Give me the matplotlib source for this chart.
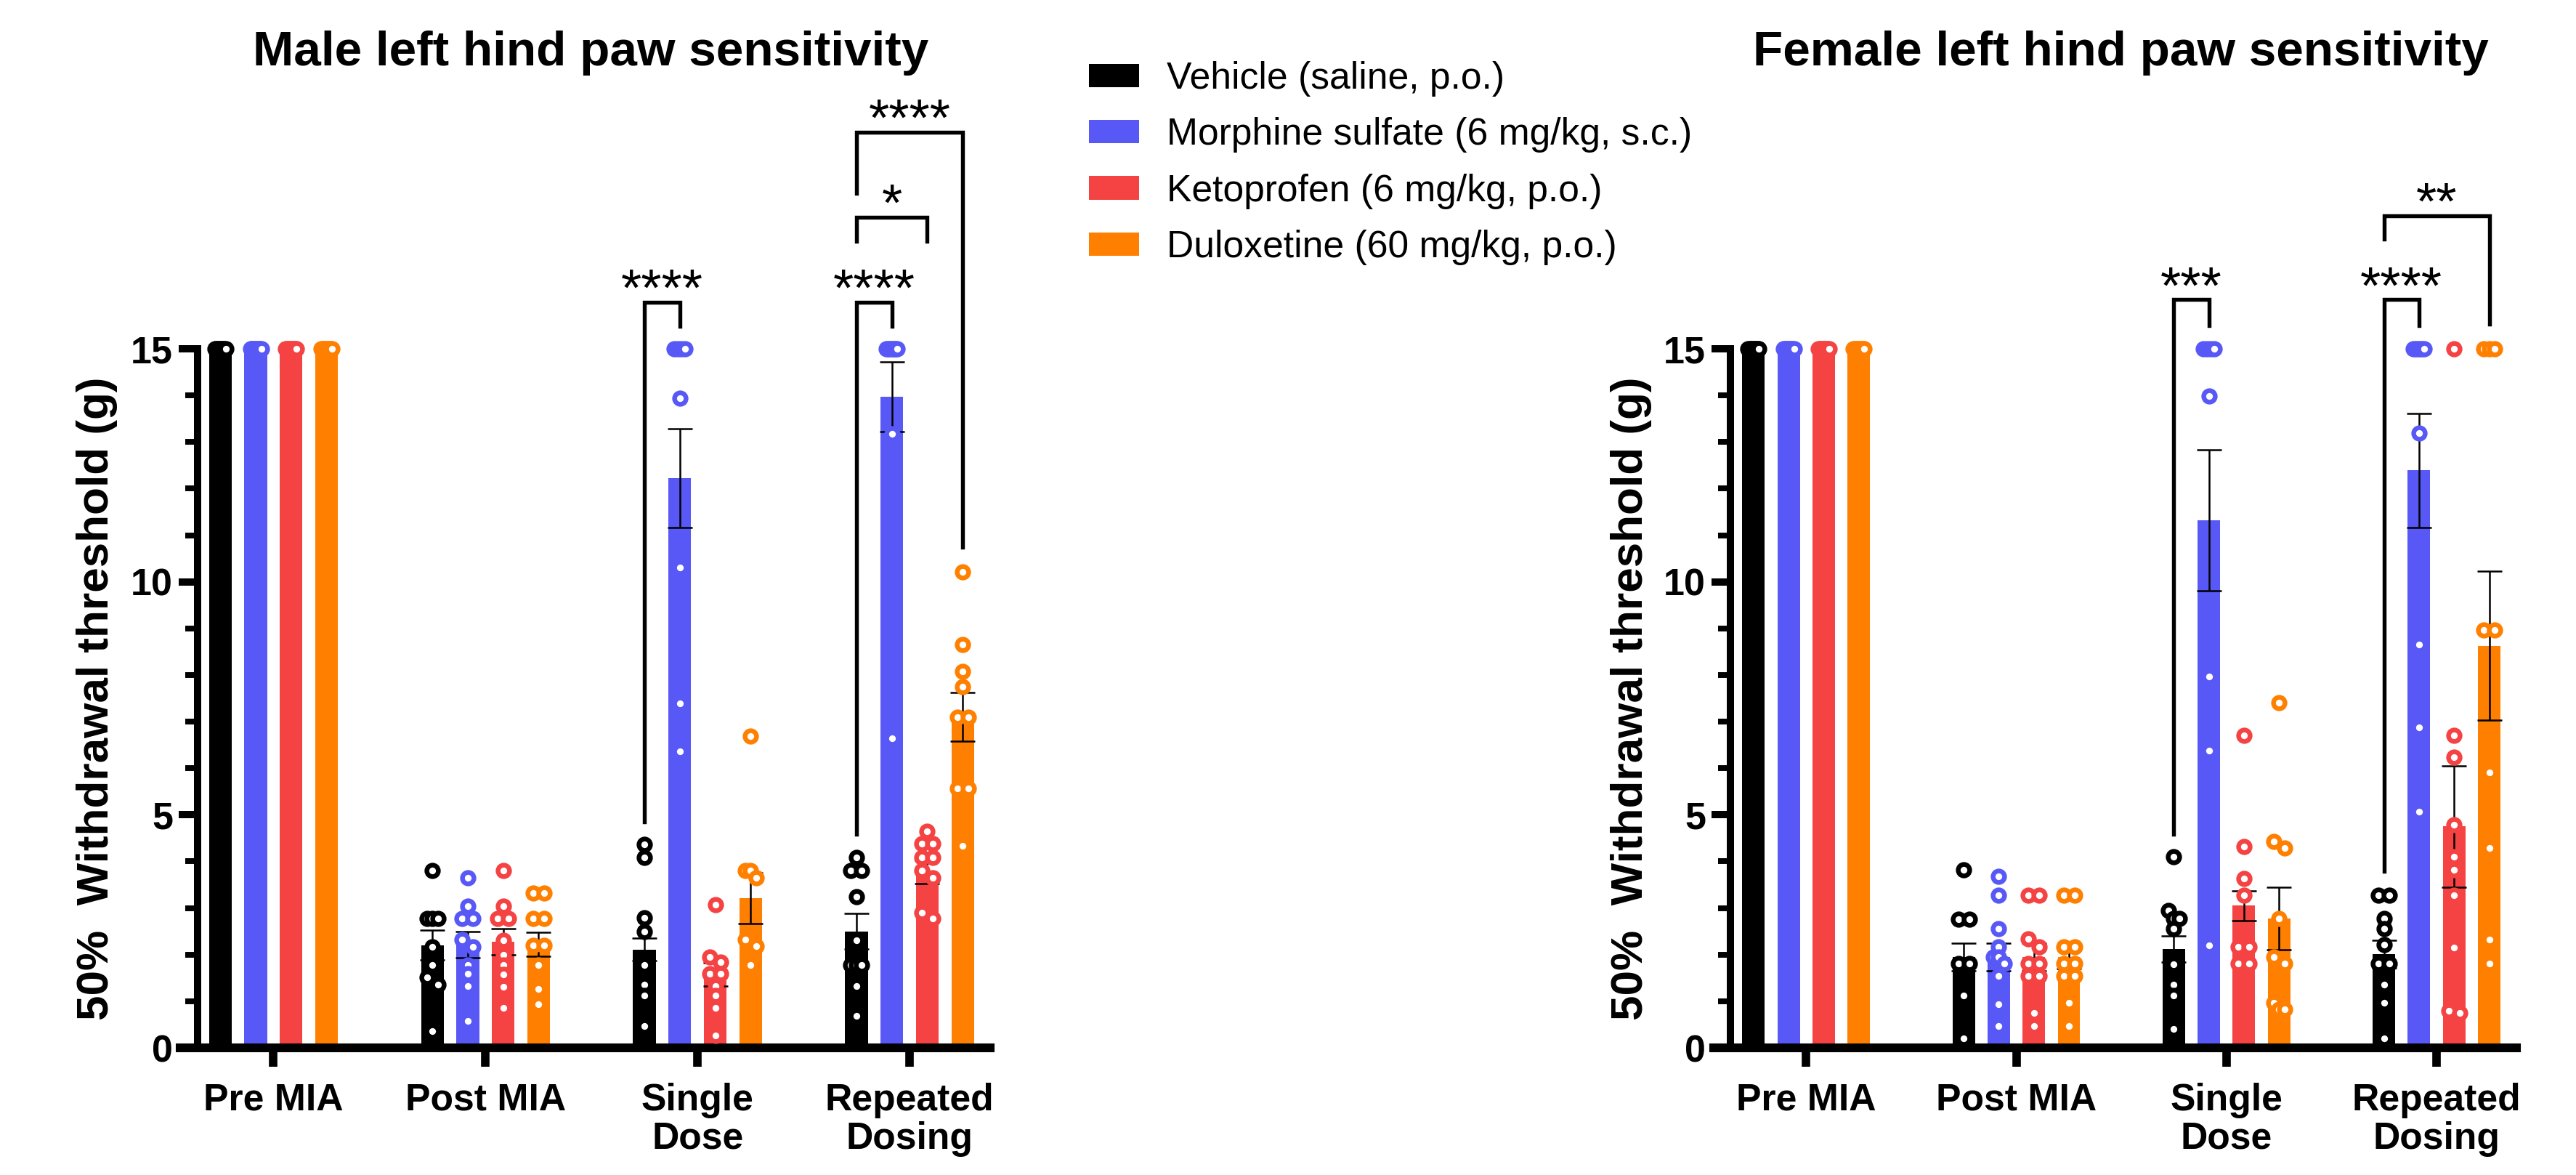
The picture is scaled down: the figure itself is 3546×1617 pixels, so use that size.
import numpy as np
import matplotlib
matplotlib.use('Agg')
import matplotlib.pyplot as plt
from matplotlib.ticker import MultipleLocator

plt.rcParams['font.family'] = ['Liberation Sans', 'DejaVu Sans']

# ---------------- data ----------------
categories = ['Pre MIA', 'Post MIA', 'Single\nDose', 'Repeated\nDosing']
groups = ['Vehicle (saline, p.o.)', 'Morphine sulfate (6 mg/kg, s.c.)',
          'Ketoprofen (6 mg/kg, p.o.)', 'Duloxetine (60 mg/kg, p.o.)']
colors = ['#000000', '#5858F7', '#F54242', '#FF8000']

# means per group (rows) x category (cols)
male_means = [[15, 2.20, 2.11, 2.50],
              [15, 2.22, 12.22, 13.97],
              [15, 2.28, 1.57, 3.78],
              [15, 2.22, 3.21, 7.10]]
male_sem = [[0, 0.32, 0.24, 0.38],
            [0, 0.28, 1.06, 0.75],
            [0, 0.28, 0.25, 0.25],
            [0, 0.26, 0.55, 0.52]]
male_points = [
    [[15] * 10,
     [3.80, 2.77, 2.77, 2.77, 2.17, 1.78, 1.51, 1.35, 0.36],
     [4.36, 4.08, 2.79, 2.50, 1.78, 1.35, 1.13, 0.47],
     [4.08, 3.81, 3.81, 3.24, 2.31, 1.78, 1.78, 1.78, 1.32, 0.69]],
    [[15] * 10,
     [3.65, 3.04, 2.77, 2.77, 2.33, 2.17, 1.78, 1.59, 1.32, 0.58],
     [15, 15, 15, 15, 13.94, 10.30, 7.39, 6.36],
     [15, 15, 15, 15, 15, 15, 15, 15, 13.17, 6.64]],
    [[15] * 10,
     [3.80, 3.04, 2.77, 2.77, 2.31, 2.00, 1.78, 1.57, 1.31, 0.85],
     [3.07, 1.95, 1.84, 1.59, 1.59, 1.32, 1.13, 0.85, 0.27],
     [4.65, 4.38, 4.38, 4.08, 4.08, 3.81, 3.65, 2.90, 2.77]],
    [[15] * 10,
     [3.32, 3.32, 2.77, 2.77, 2.20, 2.20, 1.78, 1.26, 0.93],
     [6.69, 3.81, 3.81, 3.65, 2.33, 2.19, 1.78],
     [10.22, 8.65, 8.08, 7.75, 7.10, 7.10, 5.56, 5.56, 4.34]],
]

female_means = [[15, 1.95, 2.12, 2.01],
                [15, 1.95, 11.32, 12.39],
                [15, 1.95, 3.05, 4.75],
                [15, 1.95, 2.78, 8.63]]
female_sem = [[0, 0.30, 0.28, 0.30],
              [0, 0.30, 1.51, 1.23],
              [0, 0.30, 0.32, 1.30],
              [0, 0.25, 0.67, 1.60]]
female_points = [
    [[15] * 10,
     [3.82, 2.76, 2.76, 1.81, 1.81, 1.13, 0.20],
     [4.10, 2.94, 2.78, 2.78, 2.56, 1.79, 1.35, 1.13, 0.40],
     [3.27, 3.27, 2.78, 2.56, 2.21, 1.81, 1.81, 1.35, 0.97, 0.20]],
    [[15] * 10,
     [3.68, 3.27, 2.56, 2.17, 1.95, 1.95, 1.81, 1.54, 0.93, 0.47],
     [15, 15, 15, 15, 13.98, 7.96, 6.38, 2.20],
     [15, 15, 15, 15, 15, 15, 13.19, 8.65, 6.87, 5.06]],
    [[15] * 10,
     [3.27, 3.27, 2.34, 2.17, 1.81, 1.81, 1.54, 1.54, 0.75, 0.47],
     [6.71, 4.32, 3.63, 3.27, 2.17, 2.17, 1.81, 1.81],
     [15, 6.71, 6.24, 4.78, 4.10, 3.82, 3.27, 2.15, 0.80, 0.75]],
    [[15] * 10,
     [3.27, 3.27, 2.17, 2.17, 1.81, 1.81, 1.54, 1.54, 0.97, 0.47],
     [7.41, 4.43, 4.29, 2.78, 1.95, 1.81, 0.97, 0.82, 0.82],
     [15, 15, 15, 8.96, 8.96, 5.91, 4.29, 2.32, 1.81]],
]

# significance brackets: (category, group a, group b, top y, left leg end, right leg end, label)
male_sig = [(2, 0, 1, 16.0, 4.85, 15.48, '****'),
            (3, 0, 1, 16.0, 4.59, 15.48, '****'),
            (3, 0, 2, 17.83, 17.3, 17.3, '*'),
            (3, 0, 3, 19.65, 18.33, 10.74, '****')]
female_sig = [(2, 0, 1, 16.06, 4.59, 15.5, '***'),
              (3, 0, 1, 16.06, 3.79, 15.5, '****'),
              (3, 0, 3, 17.86, 17.35, 15.53, '**')]

titles = ['Male left hind paw sensitivity', 'Female left hind paw sensitivity']
ylabel = '50%  Withdrawal threshold (g)'

# ---------------- layout ----------------
W, H, DPI = 3546, 1617, 300
fig = plt.figure(figsize=(W / DPI, H / DPI), dpi=DPI)

XLIM = (-0.44, 3.38)
YLIM = (0, 15)
bar_step = 0.167
bar_w = 0.107

ax_male = fig.add_axes([248 / W, 1 - 1442 / H, 1115 / W, 962 / H])
ax_female = fig.add_axes([2359 / W, 1 - 1442 / H, 1105 / W, 962 / H])


def swarm_offsets(vals, px_per_x, px_per_y):
    vals = np.asarray(vals, dtype=float)
    order = np.argsort(-vals)
    offs = np.zeros(len(vals))
    clusters = []
    cur = [order[0]]
    for i in order[1:]:
        if abs(vals[i] - vals[cur[-1]]) * px_per_y < 12:
            cur.append(i)
        else:
            clusters.append(cur)
            cur = [i]
    clusters.append(cur)
    for c in clusters:
        k = len(c)
        if k > 1:
            o = np.linspace(-7.5, 7.5, k)
            for j, idx in enumerate(c):
                offs[idx] = o[j] / px_per_x
    return offs


def draw_panel(ax, means, sems, points, sig, title, title_x, spine_x):
    ax.set_xlim(*XLIM)
    ax.set_ylim(*YLIM)
    bbox = ax.get_position()
    px_per_x = bbox.width * W / (XLIM[1] - XLIM[0])
    px_per_y = bbox.height * H / (YLIM[1] - YLIM[0])
    x = np.arange(len(categories))
    handles = []
    for g in range(4):
        xs = x + (g - 1.5) * bar_step
        b = ax.bar(xs, means[g], width=bar_w, color=colors[g], linewidth=0,
                   zorder=1, clip_on=False)
        handles.append(b)
        ax.errorbar(xs, means[g], yerr=sems[g], fmt='none', ecolor='black',
                    elinewidth=0.6, capsize=4, capthick=0.6, zorder=2,
                    clip_on=False)
        for c in range(len(categories)):
            vals = points[g][c]
            offs = swarm_offsets(vals, px_per_x, px_per_y)
            ax.plot(xs[c] + offs, vals, linestyle='none', marker='o',
                    markersize=3.8, markeredgewidth=1.55,
                    markerfacecolor='white', markeredgecolor=colors[g],
                    zorder=3, clip_on=False)
    # brackets
    for (c, ga, gb, top, yl, yr, lab) in sig:
        xa = c + (ga - 1.5) * bar_step
        xb = c + (gb - 1.5) * bar_step
        ax.plot([xa, xa, xb, xb], [yl, top, top, yr], color='black', lw=1.3,
                clip_on=False, solid_joinstyle='miter', zorder=4)
        ax.text((xa + xb) / 2, top - 0.08, lab, ha='center', va='baseline',
                fontsize=17.5, clip_on=False)

    for s in ['top', 'right']:
        ax.spines[s].set_visible(False)
    ax.spines['left'].set_position(('data', spine_x))
    ax.spines['left'].set_bounds(0, 15)
    ax.spines['left'].set_linewidth(2.4)
    ax.spines['bottom'].set_linewidth(2.9)
    ax.set_yticks([0, 5, 10, 15])
    ax.yaxis.set_minor_locator(MultipleLocator(1))
    ax.tick_params(axis='y', which='major', length=6.2, width=2.4, pad=2,
                   labelsize=12.5)
    ax.tick_params(axis='y', which='minor', length=4.0, width=1.9)
    for lab in ax.get_yticklabels():
        lab.set_fontweight('bold')
    ax.set_xticks(x)
    ax.set_xticklabels(categories, fontsize=12.4, fontweight='bold',
                       linespacing=1.1)
    ax.tick_params(axis='x', which='major', length=6.2, width=2.8, pad=5.3)
    ax.set_ylabel(ylabel, fontsize=14.9, fontweight='bold')
    ax.yaxis.set_label_coords(-0.077, 0.5)
    fig.text(title_x / W, 1 - 90 / H, title, ha='center', va='baseline',
             fontsize=16.2, fontweight='bold')
    return handles


handles = draw_panel(ax_male, male_means, male_sem, male_points, male_sig,
                     titles[0], 813, -0.357)
draw_panel(ax_female, female_means, female_sem, female_points, female_sig,
           titles[1], 2919, -0.36)

fig.legend(handles=handles, labels=groups, loc='upper left',
           bbox_to_anchor=(1499 / W, 1 - 84 / H), frameon=False,
           fontsize=12.4, handlelength=1.33, handleheight=0.59,
           handletextpad=0.75, labelspacing=0.55, borderpad=0,
           borderaxespad=0)

fig.savefig('out.png', dpi=DPI)
